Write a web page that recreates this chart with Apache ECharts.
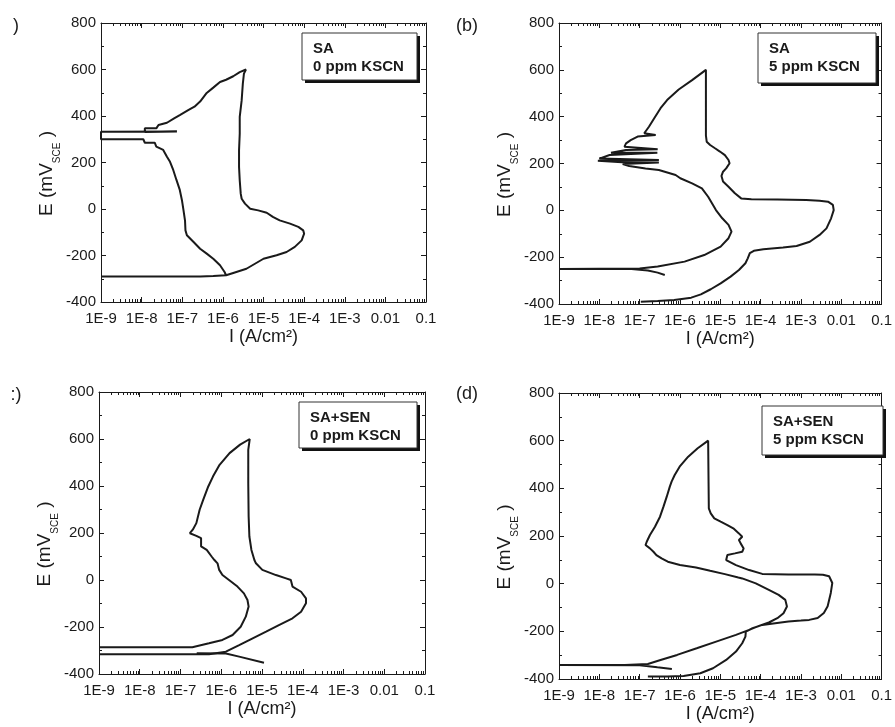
<!DOCTYPE html>
<html><head><meta charset="utf-8">
<script src="https://cdn.jsdelivr.net/npm/echarts@6/dist/echarts.min.js"></script>
<style>html,body{margin:0;padding:0;background:#fff}#c{width:895px;height:727px}</style>
</head><body><div id="c"></div>
<script>
// ---- data (current density A/cm2, potential mV vs SCE) ----
const xTickLabels = ['1E-9','1E-8','1E-7','1E-6','1E-5','1E-4','1E-3','0.01','0.1'];
const yTicks = [-400,-200,0,200,400,600,800];
const panelTags = [')', '(b)', ':)', '(d)'];
const legendTexts = [['SA','0 ppm KSCN'],['SA','5 ppm KSCN'],['SA+SEN','0 ppm KSCN'],['SA+SEN','5 ppm KSCN']];

const aLoop = [
[1e-9,-290],[2.8e-7,-290],[5.8e-7,-288],[1.2e-6,-285],[1.8e-6,-275],[3.8e-6,-257],[1.0e-5,-214],[2.1e-5,-199],[3.7e-5,-185],[5.9e-5,-163],[8.7e-5,-135],[1.0e-4,-106],[9.5e-5,-92],[7.2e-5,-77],[4.5e-5,-63],[2.5e-5,-49],[1.7e-5,-34],[1.2e-5,-16],[7.4e-6,-6],[4.7e-6,1],[3.5e-6,23],[2.9e-6,44],[2.75e-6,66],[2.6e-6,123],[2.5e-6,181],[2.5e-6,252],[2.6e-6,324],[2.6e-6,396],[2.9e-6,467],[3.1e-6,539],[3.3e-6,582],[3.7e-6,600],
[2.6e-6,589],[1.8e-6,571],[1.2e-6,556],[8.5e-7,546],[5.8e-7,522],[4.0e-7,499],[2.75e-7,462],[2.0e-7,440],[1.4e-7,425],[8.7e-8,404],[6.3e-8,390],[4.2e-8,371],[2.6e-8,361],[2.3e-8,347],[1.2e-8,347],[1.2e-8,331],[7.4e-8,333],[1e-9,332],[1e-9,300],[1.1e-8,300],[1.2e-8,285],[2.1e-8,285],[2.3e-8,268],[3.4e-8,254],[4.2e-8,225],[5.0e-8,203],[6.0e-8,168],[7.2e-8,125],[8.7e-8,82],[9.8e-8,39],[1.07e-7,-4],[1.17e-7,-50],[1.2e-7,-92],[1.3e-7,-113],[1.9e-7,-142],[2.75e-7,-171],[4.0e-7,-192],[5.8e-7,-214],[8.5e-7,-242],[1.1e-6,-271],[1.2e-6,-285]
];

const bLoop = [
[1.07e-7,-390],[2.8e-7,-387],[7.2e-7,-383],[1.9e-6,-373],[3.3e-6,-359],[5.8e-6,-337],[1.02e-5,-312],[1.8e-5,-283],[2.9e-5,-255],[4.2e-5,-226],[4.8e-5,-205],[5.4e-5,-183],[6.8e-5,-173],[1.17e-4,-166],[3.6e-4,-159],[7.8e-4,-152],[1.66e-3,-134],[2.9e-3,-105],[4.3e-3,-77],[5.6e-3,-34],[6.5e-3,1],[6.2e-3,23],[4.7e-3,37],[2.9e-3,41],[1.35e-3,44],[2.6e-4,46],[5.9e-5,47],[3.3e-5,51],[2.3e-5,73],[1.6e-5,101],[1.17e-5,123],[1.07e-5,147],[1.17e-5,165],[1.4e-5,179],[1.7e-5,201],[1.6e-5,215],[1.3e-5,236],[9.8e-6,251],[7.4e-6,265],[5.6e-6,279],[4.6e-6,293],[4.4e-6,320],[4.4e-6,450],[4.4e-6,600],
[2.0e-6,556],[9.3e-7,516],[4.8e-7,471],[3.3e-7,436],[2.3e-7,393],[1.7e-7,357],[1.3e-7,329],[2.5e-7,322],[8.9e-8,315],[6.0e-8,300],[4.6e-8,286],[4.2e-8,272],[2.8e-7,261],[4.6e-8,258],[1.95e-8,246],[2.75e-7,246],[1.8e-8,236],[1.0e-8,221],[3.0e-7,215],[9.2e-9,212],[4.6e-8,204],[3.0e-7,204],[3.8e-8,198],[5.5e-8,189],[1.4e-7,179],[3.0e-7,172],[7.8e-7,151],[1.02e-6,137],[2.0e-6,115],[3.5e-6,94],[5.0e-6,58],[7.8e-6,1],[1.12e-5,-34],[1.6e-5,-62],[1.9e-5,-91],[1.6e-5,-119],[1.02e-5,-155],[4.0e-6,-191],[1.3e-6,-219],[2.8e-7,-240],[1.0e-7,-248],[1e-9,-250],[6.3e-8,-251],[1.6e-7,-257],[2.8e-7,-266],[4.2e-7,-276]
];

const cLoop = [
[1e-9,-316],[5.0e-7,-316],[1.3e-6,-305],[2.75e-6,-277],[5.9e-6,-248],[1.26e-5,-220],[2.6e-5,-192],[5.6e-5,-163],[9.1e-5,-135],[1.2e-4,-99],[1.2e-4,-78],[9.1e-5,-50],[5.6e-5,-28],[5.1e-5,0],[3.9e-5,7],[2.2e-5,21],[1.02e-5,43],[7.1e-6,71],[6.5e-6,85],[5.5e-6,128],[4.9e-6,185],[4.7e-6,270],[4.6e-6,412],[4.6e-6,554],[5.0e-6,600],
[2.9e-6,576],[1.6e-6,540],[9.1e-7,490],[6.3e-7,441],[4.8e-7,398],[3.6e-7,341],[2.95e-7,299],[2.45e-7,242],[2.0e-7,214],[1.7e-7,199],[2.45e-7,188],[3.2e-7,178],[3.2e-7,143],[4.4e-7,128],[5.8e-7,100],[6.8e-7,85],[8.1e-7,71],[8.9e-7,43],[1.07e-6,21],[1.55e-6,0],[2.5e-6,-28],[3.6e-6,-57],[4.4e-6,-85],[4.7e-6,-113],[4.0e-6,-156],[3.0e-6,-199],[1.9e-6,-234],[1.07e-6,-255],[5.0e-7,-269],[1.95e-7,-286],[1e-9,-286]
];
const cTail = [[2.5e-7,-312],[1.3e-6,-313],[2.75e-6,-326],[1.12e-5,-352]];

const dLoop = [
[1.6e-7,-390],[4.8e-7,-390],[1.23e-6,-387],[3.2e-6,-376],[6.6e-6,-355],[1.4e-5,-320],[2.45e-5,-285],[3.5e-5,-250],[4.2e-5,-222],[4.3e-5,-201],[6.3e-5,-187],[1.1e-4,-173],[2.3e-4,-166],[4.9e-4,-159],[1.0e-3,-155],[1.6e-3,-152],[2.6e-3,-144],[3.7e-3,-123],[4.6e-3,-95],[5.5e-3,-39],[6.0e-3,3],[5.0e-3,31],[3.5e-3,37],[2.2e-3,38],[4.9e-4,38],[1.1e-4,41],[5.2e-5,57],[2.45e-5,78],[1.4e-5,99],[1.35e-5,106],[1.5e-5,120],[2.3e-5,127],[3.5e-5,134],[3.8e-5,148],[3.2e-5,169],[2.9e-5,183],[3.5e-5,197],[2.9e-5,211],[2.1e-5,232],[1.5e-5,246],[1.02e-5,260],[7.1e-6,274],[5.8e-6,295],[5.2e-6,316],[5.1e-6,450],[5.0e-6,600],
[2.75e-6,568],[1.6e-6,533],[9.8e-7,491],[7.4e-7,456],[6.2e-7,428],[5.6e-7,407],[4.7e-7,365],[3.9e-7,323],[3.2e-7,281],[2.4e-7,239],[1.8e-7,204],[1.5e-7,176],[1.4e-7,162],[1.8e-7,148],[2.2e-7,134],[2.6e-7,120],[3.5e-7,106],[5.0e-7,92],[1.0e-6,78],[2.5e-6,68],[5.6e-6,54],[1.3e-5,40],[2.8e-5,26],[3.5e-5,22],[7.6e-5,1],[1.6e-4,-26],[2.8e-4,-47],[4.1e-4,-68],[4.5e-4,-96],[3.7e-4,-124],[2.6e-4,-145],[1.6e-4,-163],[9.1e-5,-177],[5.2e-5,-194],[2.45e-5,-215],[7.9e-6,-243],[2.6e-6,-271],[8.5e-7,-299],[3.3e-7,-320],[1.6e-7,-337],[4.3e-8,-341],[1e-9,-341],[1.0e-7,-342],[2.75e-7,-351],[6.3e-7,-358]
];

const panelCurves = [[aLoop],[bLoop],[cLoop,cTail],[dLoop]];

// ---- layout / style ----
const font = "'Liberation Sans', Arial, sans-serif";
const ink = '#1a1a1a';
const grids = [
  {left:101, top:23, width:325, height:279},
  {left:559, top:23, width:326, height:281},
  {left:99,  top:392, width:326, height:282},
  {left:559, top:393, width:328, height:286}
];
const tagPos = [[16,26],[467,26],[16,395],[467,394]];
const boxes = [
  {x:302,y:33,w:115,h:47},
  {x:758,y:33,w:118,h:50},
  {x:299,y:402,w:118,h:46},
  {x:762,y:406,w:121,h:49}
];

const minorVals = [];
for (let e = -9; e < -1; e++) for (let k = 2; k < 10; k++) minorVals.push(+(k * Math.pow(10, e)).toPrecision(3));

const xAxes = [], yAxes = [], series = [], graphics = [];
grids.forEach((g, i) => {
  const base = {type:'log', logBase:10, min:1e-9, max:0.1, gridIndex:i, splitLine:{show:false}, splitNumber:8};
  const line = {show:true, onZero:false, lineStyle:{color:ink, width:1}};
  xAxes.push(Object.assign({}, base, {
    position:'bottom', axisLine:line,
    axisTick:{show:true, inside:true, length:5, lineStyle:{color:ink}},
    axisLabel:{show:true, fontSize:15, color:ink, fontFamily:font, margin:9,
      formatter: v => xTickLabels[Math.round(Math.log10(v)) + 9]},
    name:'I (A/cm²)', nameLocation:'middle', nameGap:26,
    nameTextStyle:{fontSize:18, color:ink, fontFamily:font}
  }));
  xAxes.push(Object.assign({}, base, {
    position:'bottom', axisLine:{show:false, onZero:false},
    axisTick:{show:true, inside:true, length:3, customValues:minorVals, lineStyle:{color:ink}},
    axisLabel:{show:false}
  }));
  xAxes.push(Object.assign({}, base, {
    position:'top', axisLine:line,
    axisTick:{show:true, inside:true, length:5, lineStyle:{color:ink}},
    axisLabel:{show:false}
  }));
  xAxes.push(Object.assign({}, base, {
    position:'top', axisLine:{show:false, onZero:false},
    axisTick:{show:true, inside:true, length:3, customValues:minorVals, lineStyle:{color:ink}},
    axisLabel:{show:false}
  }));
  const ybase = {type:'value', gridIndex:i, min:yTicks[0], max:yTicks[yTicks.length-1], interval:200,
    splitLine:{show:false}, axisLine:line,
    axisTick:{show:true, inside:true, length:5, lineStyle:{color:ink}},
    minorTick:{show:true, splitNumber:2, length:3, lineStyle:{color:ink}}};
  yAxes.push(Object.assign({}, ybase, {
    position:'left',
    axisLabel:{show:true, fontSize:15, color:ink, fontFamily:font, margin:5},
    name:'{m|E (mV}{s|SCE}{m| )}', nameLocation:'middle', nameRotate:90, nameGap:36,
    nameTextStyle:{color:ink, fontFamily:font, padding:[0,22,0,0], rich:{
      m:{fontSize:19, color:ink, fontFamily:font},
      s:{fontSize:10, color:ink, fontFamily:font, lineHeight:30, verticalAlign:'bottom'}
    }}
  }));
  yAxes.push(Object.assign({}, ybase, {position:'right', axisLabel:{show:false}}));
  panelCurves[i].forEach(d => series.push({
    type:'line', xAxisIndex:4*i, yAxisIndex:2*i, data:d, showSymbol:false, symbol:'none',
    lineStyle:{color:ink, width:2}, animation:false, silent:true, clip:true
  }));
  graphics.push({type:'text', x:tagPos[i][0], y:tagPos[i][1],
    style:{text:panelTags[i], font:'18px ' + font, fill:ink, align:'center', verticalAlign:'middle'}});
  const b = boxes[i];
  graphics.push({type:'rect', shape:{x:b.x+3, y:b.y+3, width:b.w, height:b.h}, style:{fill:'#111'}, z:10});
  graphics.push({type:'rect', shape:{x:b.x, y:b.y, width:b.w, height:b.h}, style:{fill:'#fff', stroke:'#333', lineWidth:1}, z:11});
  graphics.push({type:'text', x:b.x+11, y:b.y+16, z:12,
    style:{text:legendTexts[i][0], font:'bold 15px ' + font, fill:ink, verticalAlign:'middle'}});
  graphics.push({type:'text', x:b.x+11, y:b.y+34, z:12,
    style:{text:legendTexts[i][1], font:'bold 15px ' + font, fill:ink, verticalAlign:'middle'}});
});

const chart = echarts.init(document.getElementById('c'), null, {renderer:'canvas'});
chart.setOption({
  animation:false,
  backgroundColor:'#fff',
  grid: grids,
  xAxis: xAxes,
  yAxis: yAxes,
  series: series,
  graphic: graphics
});
</script></body></html>
